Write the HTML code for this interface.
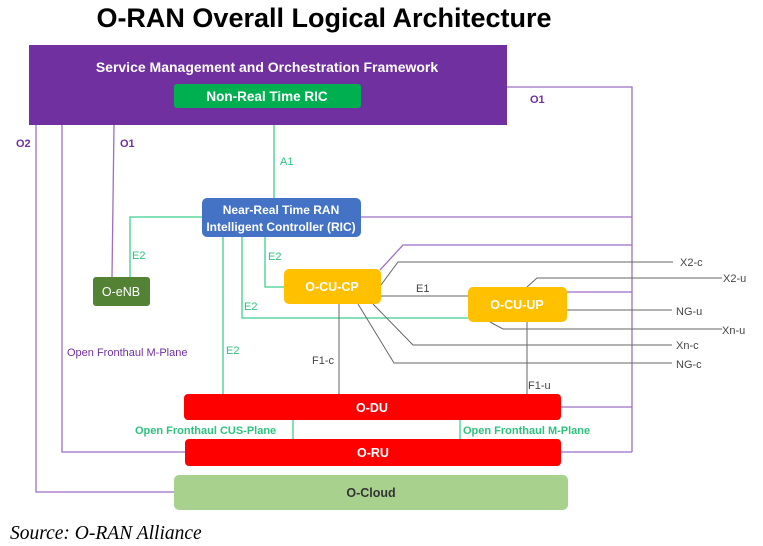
<!DOCTYPE html>
<html><head><meta charset="utf-8"><style>
body{margin:0;background:#fff;width:763px;height:546px;overflow:hidden}
svg{display:block}
</style></head><body>
<svg width="763" height="546" viewBox="0 0 763 546" xmlns="http://www.w3.org/2000/svg" font-family="Liberation Sans, sans-serif">
<text x="324" y="27" text-anchor="middle" font-size="27" font-weight="bold" fill="#000">O-RAN Overall Logical Architecture</text>
<g stroke="#9b6fc4" stroke-width="1.3" fill="none">
<polyline points="507,87 632,87 632,452"/>
<line x1="361" y1="217" x2="632" y2="217"/>
<polyline points="380,270 403,245 632,245"/>
<line x1="567" y1="292" x2="632" y2="292"/>
<line x1="561" y1="407" x2="632" y2="407"/>
<line x1="561" y1="452" x2="632" y2="452"/>
<polyline points="36,125 36,492 174,492"/>
<polyline points="62,125 62,452 185,452"/>
<line x1="114" y1="125" x2="112" y2="277"/>
</g>
<g stroke="#3ecf8e" stroke-width="1.3" fill="none">
<line x1="274" y1="108" x2="274" y2="198"/>
<polyline points="202,217 130,217 130,277"/>
<line x1="223" y1="237" x2="223" y2="394"/>
<polyline points="242,237 242,318 468,318"/>
<polyline points="265,237 265,287 284,287"/>
<line x1="293" y1="420" x2="293" y2="439"/>
<line x1="460" y1="420" x2="460" y2="439"/>
</g>
<g stroke="#666" stroke-width="1" fill="none">
<polyline points="381,285 398,262 673,262"/>
<polyline points="527,287 537,278 722,278"/>
<line x1="567" y1="310" x2="672" y2="310"/>
<polyline points="490,322 503,329 722,329"/>
<polyline points="373,304 413,345 672,345"/>
<polyline points="358,304 394,363 672,363"/>
<line x1="381" y1="296" x2="468" y2="296"/>
<line x1="339" y1="304" x2="339" y2="394"/>
<line x1="527" y1="322" x2="527" y2="394"/>
</g>
<rect x="29" y="45" width="478" height="80" fill="#7030a0"/>
<text x="267" y="72" text-anchor="middle" font-size="14" font-weight="bold" fill="#fff">Service Management and Orchestration Framework</text>
<rect x="174" y="84" width="187" height="24" rx="3" fill="#00b050"/>
<text x="267" y="101" text-anchor="middle" font-size="13.5" font-weight="bold" fill="#fff">Non-Real Time RIC</text>
<rect x="202" y="198" width="159" height="39" rx="5" fill="#4472c4"/>
<text x="281" y="214" text-anchor="middle" font-size="12" font-weight="bold" fill="#fff">Near-Real Time RAN</text>
<text x="281" y="231" text-anchor="middle" font-size="12" font-weight="bold" fill="#fff">Intelligent Controller (RIC)</text>
<rect x="93" y="277" width="57" height="29" rx="3" fill="#548235"/>
<text x="121" y="296" text-anchor="middle" font-size="12.5" fill="#fff">O-eNB</text>
<rect x="284" y="269" width="97" height="35" rx="5" fill="#ffc000"/>
<text x="332" y="291" text-anchor="middle" font-size="12.5" font-weight="bold" fill="#fff">O-CU-CP</text>
<rect x="468" y="287" width="99" height="35" rx="5" fill="#ffc000"/>
<text x="517" y="309" text-anchor="middle" font-size="12.5" font-weight="bold" fill="#fff">O-CU-UP</text>
<rect x="184" y="394" width="377" height="26" rx="4" fill="#ff0000"/>
<text x="372" y="412" text-anchor="middle" font-size="12.5" font-weight="bold" fill="#fff">O-DU</text>
<rect x="185" y="439" width="376" height="27" rx="4" fill="#ff0000"/>
<text x="373" y="457" text-anchor="middle" font-size="12.5" font-weight="bold" fill="#fff">O-RU</text>
<rect x="174" y="475" width="394" height="35" rx="5" fill="#a9d18e"/>
<text x="371" y="497" text-anchor="middle" font-size="12.5" font-weight="bold" fill="#333">O-Cloud</text>
<g font-size="11" font-weight="bold" fill="#7030a0">
<text x="530" y="103">O1</text>
<text x="16" y="147">O2</text>
<text x="120" y="147">O1</text>
<text x="67" y="356" font-weight="normal">Open Fronthaul M-Plane</text>
</g>
<g font-size="11" fill="#2ec27e">
<text x="280" y="165">A1</text>
<text x="132" y="259">E2</text>
<text x="268" y="260">E2</text>
<text x="244" y="310">E2</text>
<text x="226" y="354">E2</text>
<text x="135" y="434" font-weight="bold">Open Fronthaul CUS-Plane</text>
<text x="463" y="434" font-weight="bold">Open Fronthaul M-Plane</text>
</g>
<g font-size="11" fill="#444">
<text x="416" y="292">E1</text>
<text x="312" y="364">F1-c</text>
<text x="528" y="389">F1-u</text>
<text x="680" y="266">X2-c</text>
<text x="723" y="282">X2-u</text>
<text x="676" y="315">NG-u</text>
<text x="722" y="334">Xn-u</text>
<text x="676" y="349">Xn-c</text>
<text x="676" y="368">NG-c</text>
</g>
<text x="10" y="539" style="font-family:'Liberation Serif',serif;font-style:italic;font-size:19.5px" fill="#000">Source: O-RAN Alliance</text>
</svg>
</body></html>
